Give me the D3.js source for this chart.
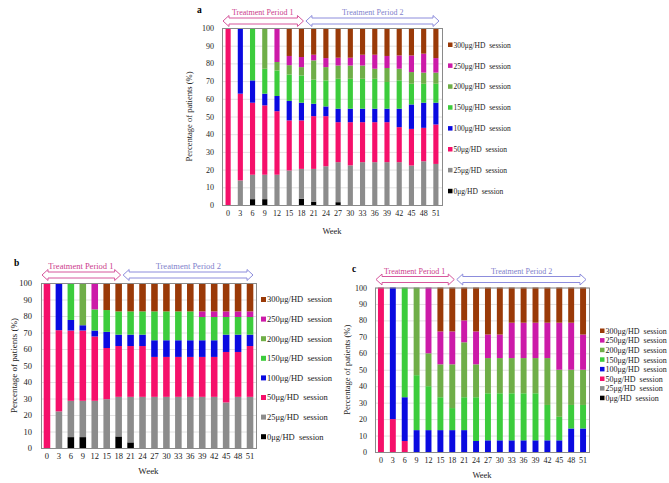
<!DOCTYPE html>
<html><head><meta charset="utf-8">
<script src="https://cdn.jsdelivr.net/npm/d3@7"></script>
<style>body{margin:0;background:#fff}svg{display:block}text{font-family:"Liberation Serif","Times New Roman",serif}</style>
</head><body>
<svg id="c" width="669" height="483"></svg>
<script>
const weeks = [0,3,6,9,12,15,18,21,24,27,30,33,36,39,42,45,48,51];
const doseKeys = ["d0","d25","d50","d100","d150","d200","d250","d300"];
const doseLabels = ["0μg/HD session","25μg/HD session","50μg/HD session","100μg/HD session","150μg/HD session","200μg/HD session","250μg/HD session","300μg/HD session"];
const doseColors = ["#000000","#8c8c8c","#f5106a","#0a0ae0","#3ccc3c","#6fae48","#cc1aa8","#9a3a08"];
const yTicks = [0,10,20,30,40,50,60,70,80,90,100];
const periodLabels = ["Treatment Period 1","Treatment Period 2"];

// Panel a (% of patients per dose, by week)
const a_d0   = [0,0,3.3,3.3,0,0,3.5,1.9,0,1.6,0,0,0,0,0,0,0,0];
const a_d25  = [0,13.9,13.8,13.8,17.1,19.5,16.9,18.5,21.9,22.6,22.4,24.2,24.2,24.2,24.2,22.3,24.7,23.2];
const a_d50  = [100,49,40.7,39.2,35.9,28.3,27.4,29.8,28.3,22.6,24.4,22.6,22.6,22.6,19.8,20.7,18.9,22.3];
const a_d100 = [0,37.1,12.6,6.6,8.6,11,10,7,5.5,7.6,7.6,7.6,7.6,7.6,10.4,13.8,14.2,12.3];
const a_d150 = [0,0,29.6,14.1,14.4,14.9,15.4,13.6,14.7,16.9,16.9,16.9,16.9,15.1,16,11.7,10.7,10.7];
const a_d200 = [0,0,0,23,4.8,5.3,4.7,10.9,7.5,7.5,7.5,7.5,5.7,7.9,6.6,6.6,6.3,6.3];
const a_d250 = [0,0,0,0,19.2,5.2,5.7,3.2,5.1,4.4,4.4,6.1,7.9,6.8,7.5,9.4,10.7,8.2];
const a_d300 = [0,0,0,0,0,15.8,16.4,15.1,17,16.8,16.8,15.1,15.1,15.8,15.5,15.5,14.5,17];

// Panel b
const b_d0   = [0,0,6.6,6.6,0,0,7,3.4,0,0,0,0,0,0,0,0,0,0];
const b_d25  = [0,22.2,22,22,28.6,29.6,24,27.6,31,31,31,31,31,31,31,27.6,31,31];
const b_d50  = [100,49.2,42.6,42.6,39,31,30.8,30.8,30.8,24.2,24.2,24.2,24.2,24.2,24.2,30.6,27.2,30.8];
const b_d100 = [0,28.6,6.4,3.2,3.6,9.8,6.9,6.9,6.9,10.1,10.1,10.1,10.1,10.1,10.1,10.5,10.5,6.9];
const b_d150 = [0,0,22.4,0,12.8,13.2,14.1,14.1,14.1,17.5,17.5,17.5,17.5,14.1,14.1,10.7,10.7,10.7];
const b_d200 = [0,0,0,25.6,0,0,0,0,0,0,0,0,0,0,0,0,0,0];
const b_d250 = [0,0,0,0,16,0,0,0,0,0,0,0,0,3.4,3.4,3.4,3.4,3.4];
const b_d300 = [0,0,0,0,0,16.4,17.2,17.2,17.2,17.2,17.2,17.2,17.2,17.2,17.2,17.2,17.2,17.2];

// Panel c
const c_d0   = [0,0,0,0,0,0,0,0,0,0,0,0,0,0,0,0,0,0];
const c_d25  = [0,0,0,0,0,0,0,0,0,0,0,0,0,0,0,0,0,0];
const c_d50  = [100,20,6.7,0,0,0,0,0,0,0,0,0,0,0,0,0,0,0];
const c_d100 = [0,80,26.6,13.3,13.3,13.3,13.3,13.3,6.7,7.1,7.1,7.1,7.1,7.1,7.1,7.1,14.3,14.3];
const c_d150 = [0,0,66.7,33.4,26.7,20,13.4,20,26.6,28.6,28.6,28.6,28.6,28.6,21.5,14.3,14.3,14.3];
const c_d200 = [0,0,0,53.3,20,20,26.6,33.4,20,21.4,21.4,21.4,21.4,21.4,28.5,28.6,21.4,21.4];
const c_d250 = [0,0,0,0,40,20,20,13.3,20,14.3,14.3,21.5,21.5,21.5,21.5,28.6,28.6,21.4];
const c_d300 = [0,0,0,0,0,26.7,26.7,20,26.7,28.6,28.6,21.4,21.4,21.4,21.4,21.4,21.4,28.6];

function rows(series){
  return weeks.map((w,i)=>{const r={week:w};doseKeys.forEach((k,j)=>r[k]=series[j][i]);return r;});
}

const svg = d3.select("#c");

function arrowPath(x1,x2,cy){
  const h=3,H=5.5,L=6;
  return `M${x1},${cy} L${x1+L},${cy-H} L${x1+L},${cy-h} L${x2-L},${cy-h} L${x2-L},${cy-H} L${x2},${cy} L${x2-L},${cy+H} L${x2-L},${cy+h} L${x1+L},${cy+h} L${x1+L},${cy+H} Z`;
}

function panel(cfg){
  const g = svg.append("g");
  const x = d3.scaleBand().domain(weeks).range([cfg.x0,cfg.x1]).paddingInner(cfg.pad).paddingOuter(cfg.pad/2);
  const y = d3.scaleLinear().domain([0,100]).range([cfg.y1,cfg.y0]);
  // grid
  g.selectAll(".gl").data(yTicks).join("line")
    .attr("x1",cfg.x0).attr("x2",cfg.x1).attr("y1",d=>y(d)+0.5).attr("y2",d=>y(d)+0.5)
    .attr("stroke","#e2e2e2").attr("stroke-width",1);
  const stack = d3.stack().keys(doseKeys)(rows(cfg.series));
  g.selectAll(".s").data(stack).join("g").attr("fill",(d,i)=>doseColors[i])
    .selectAll("rect").data(d=>d).join("rect")
    .attr("x",d=>x(d.data.week)).attr("width",x.bandwidth())
    .attr("y",d=>y(d[1])).attr("height",d=>Math.max(0,y(d[0])-y(d[1])));
  // frame
  g.append("rect").attr("x",cfg.x0+0.5).attr("y",cfg.y0+0.5).attr("width",cfg.x1-cfg.x0).attr("height",cfg.y1-cfg.y0)
    .attr("fill","none").attr("stroke","#8a8a8a").attr("stroke-width",1);
  // y axis
  const ya = g.append("g").attr("transform",`translate(${cfg.x0},0)`)
    .call(d3.axisLeft(y).tickValues(yTicks).tickSize(0).tickPadding(cfg.tp));
  ya.select(".domain").remove();
  ya.selectAll("text").attr("font-size",cfg.fs).attr("fill","#222").style("font-family","Liberation Serif");
  const xa = g.append("g").attr("transform",`translate(0,${cfg.y1})`)
    .call(d3.axisBottom(x).tickSize(0).tickPadding(cfg.xp));
  xa.select(".domain").remove();
  xa.selectAll("text").attr("font-size",cfg.fs).attr("fill","#222").style("font-family","Liberation Serif");
  g.append("text").attr("x",(cfg.x0+cfg.x1)/2).attr("y",cfg.weekY).attr("text-anchor","middle")
    .attr("font-size",cfg.fs+0.5).attr("fill","#222").text("Week");
  g.append("text").attr("transform",`translate(${cfg.ylabX},${(cfg.y0+cfg.y1)/2}) rotate(-90)`)
    .attr("text-anchor","middle").attr("font-size",cfg.fs+0.5).attr("fill","#222").text("Percentage of patients (%)");
  g.append("text").attr("x",cfg.letter[0]).attr("y",cfg.letter[1]).attr("font-size",9.5).attr("font-weight","bold").text(cfg.name);
  // periods
  const split = x(18)+x.bandwidth()/2+2;
  const ay = cfg.arrowY;
  g.append("path").attr("d",arrowPath(cfg.x0+1,split,ay)).attr("fill","#fff").attr("stroke","#d6569c").attr("stroke-width",1);
  g.append("path").attr("d",arrowPath(split+2.5,cfg.x1-3,ay)).attr("fill","#fff").attr("stroke","#8c8cdc").attr("stroke-width",1);
  g.append("text").attr("x",(cfg.x0+split)/2).attr("y",ay-6).attr("text-anchor","middle").attr("font-size",cfg.fs).attr("fill","#cc3d8c").text(periodLabels[0]);
  g.append("text").attr("x",(split+cfg.x1)/2).attr("y",ay-6).attr("text-anchor","middle").attr("font-size",cfg.fs).attr("fill","#7f7fcc").text(periodLabels[1]);
  // legend
  const order = d3.range(7,-1,-1);
  const lg = g.selectAll(".lg").data(order).join("g")
    .attr("transform",(d,i)=>`translate(${cfg.lx},${cfg.ly+i*cfg.ls})`);
  lg.append("rect").attr("x",0).attr("y",-2.5).attr("width",cfg.sq).attr("height",cfg.sq).attr("fill",d=>doseColors[d]);
  lg.append("text").attr("x",cfg.sq+1).attr("y",0).attr("dy","0.35em").attr("font-size",cfg.lfs).attr("fill","#222")
    .attr("xml:space","preserve").text(d=>doseLabels[d].replace(" ","  "));
}

panel({name:"a",series:[a_d0,a_d25,a_d50,a_d100,a_d150,a_d200,a_d250,a_d300],
  x0:222,x1:442,y0:28,y1:205,pad:0.58,fs:8,tp:8,xp:5,weekY:234,ylabX:192,letter:[197,13],arrowY:21,
  lx:448,ly:45,ls:20.9,sq:4.5,lfs:7.5});
panel({name:"b",series:[b_d0,b_d25,b_d50,b_d100,b_d150,b_d200,b_d250,b_d300],
  x0:41,x1:256,y0:283,y1:448,pad:0.45,fs:8.5,tp:9,xp:5,weekY:474,ylabX:17,letter:[14,266],arrowY:275,
  lx:261,ly:299.5,ls:19.6,sq:5,lfs:8.5});
panel({name:"c",series:[c_d0,c_d25,c_d50,c_d100,c_d150,c_d200,c_d250,c_d300],
  x0:375,x1:589,y0:287.5,y1:452,pad:0.5,fs:8,tp:8,xp:5,weekY:478,ylabX:350,letter:[352,272],arrowY:279.5,
  lx:600,ly:331,ls:9.6,sq:4.5,lfs:8});
</script>
</body></html>
